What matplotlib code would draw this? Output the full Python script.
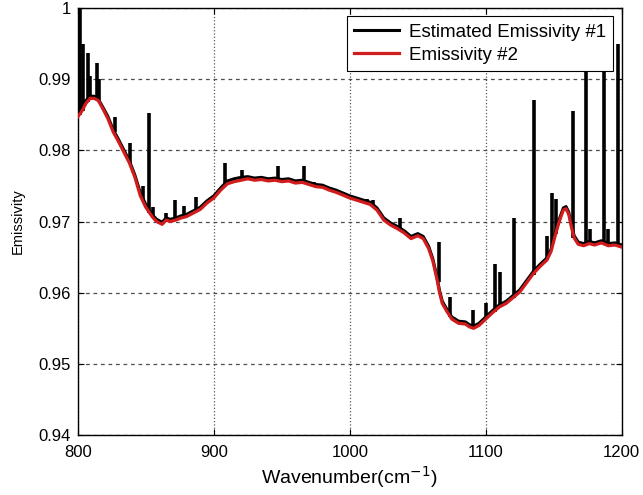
import matplotlib
matplotlib.use("Agg")
import matplotlib.pyplot as plt

plt.rcParams['font.family'] = ['Liberation Sans', 'DejaVu Sans']

# emissivity #2 (smooth red curve)
red_wn = [800, 803, 806, 809, 812, 815, 818, 822, 826, 830, 834, 838, 842, 846, 850,
          855, 858, 862, 865, 868, 872, 876, 880, 885, 890, 895, 900, 905, 910, 915,
          920, 925, 930, 935, 940, 945, 950, 955, 960, 965, 970, 975, 980, 985, 990,
          995, 1000, 1005, 1010, 1015, 1020, 1025, 1030, 1035, 1040, 1045, 1050, 1054,
          1058, 1061, 1064, 1066, 1068, 1071, 1075, 1080, 1085, 1088, 1091, 1095, 1100,
          1105, 1110, 1115, 1120, 1125, 1130, 1135, 1140, 1145, 1148, 1151, 1154, 1157,
          1159, 1161, 1163, 1165, 1168, 1172, 1176, 1180, 1185, 1190, 1195, 1200]
red_em = [0.9847, 0.9855, 0.9866, 0.9873, 0.9873, 0.9870, 0.9860, 0.9845, 0.9826, 0.9812,
          0.9797, 0.9782, 0.9762, 0.9736, 0.9720, 0.9706, 0.9700, 0.9696, 0.9702, 0.9700,
          0.9702, 0.9705, 0.9707, 0.9712, 0.9717, 0.9726, 0.9733, 0.9744, 0.9753, 0.9756,
          0.9758, 0.9760, 0.9758, 0.9759, 0.9757, 0.9758, 0.9756, 0.9757, 0.9754, 0.9755,
          0.9752, 0.9749, 0.9748, 0.9744, 0.9741, 0.9737, 0.9733, 0.9730, 0.9727, 0.9724,
          0.9716, 0.9702, 0.9695, 0.9690, 0.9684, 0.9676, 0.9680, 0.9676, 0.9662, 0.9645,
          0.9620, 0.9600, 0.9585, 0.9575, 0.9563, 0.9557, 0.9556, 0.9552, 0.9550, 0.9554,
          0.9563, 0.9572, 0.9580, 0.9585, 0.9593, 0.9601, 0.9614, 0.9627, 0.9637, 0.9646,
          0.9658, 0.9680, 0.9700, 0.9716, 0.9718, 0.9710, 0.9692, 0.9677, 0.9668, 0.9666,
          0.9669, 0.9667, 0.9670, 0.9666, 0.9667, 0.9664]

# estimated emissivity #1: same baseline, slightly noisier, plus narrow spikes
black_em = [0.9850, 0.9858, 0.9870, 0.9876, 0.9876, 0.9872, 0.9862, 0.9848, 0.9829, 0.9815,
            0.9800, 0.9785, 0.9765, 0.9740, 0.9724, 0.9709, 0.9703, 0.9699, 0.9705, 0.9703,
            0.9705, 0.9708, 0.9710, 0.9715, 0.9720, 0.9729, 0.9736, 0.9747, 0.9757, 0.9760,
            0.9762, 0.9763, 0.9761, 0.9762, 0.9760, 0.9761, 0.9759, 0.9760, 0.9757, 0.9758,
            0.9755, 0.9752, 0.9751, 0.9747, 0.9744, 0.9740, 0.9736, 0.9733, 0.9730, 0.9727,
            0.9719, 0.9705, 0.9698, 0.9693, 0.9687, 0.9679, 0.9683, 0.9679, 0.9665, 0.9648,
            0.9623, 0.9603, 0.9588, 0.9578, 0.9566, 0.9560, 0.9559, 0.9555, 0.9553, 0.9557,
            0.9566, 0.9575, 0.9583, 0.9588, 0.9596, 0.9604, 0.9617, 0.9630, 0.9640, 0.9649,
            0.9661, 0.9683, 0.9703, 0.9719, 0.9721, 0.9713, 0.9695, 0.9680, 0.9671, 0.9669,
            0.9672, 0.9670, 0.9673, 0.9669, 0.9670, 0.9667]
spike_wn = [801.8, 803.7, 807.4, 808.8, 814.0, 815.4, 827.2, 838.2, 847.8, 852.2, 855.0,
            864.7, 871.3, 878.0, 886.8, 908.0, 920.6, 947.0, 966.0, 974.0, 995.0, 1012.5,
            1017.0, 1036.8, 1065.4, 1073.5, 1090.4, 1100.0, 1106.6, 1110.3, 1120.6,
            1135.3, 1145.0, 1149.0, 1151.5, 1164.0, 1173.5, 1176.5, 1186.8, 1190.0, 1197.0]
spike_lo = [0.9850, 0.9855, 0.9868, 0.9870, 0.9872, 0.9870, 0.9826, 0.9782, 0.9730, 0.9712, 0.9706,
            0.9700, 0.9702, 0.9706, 0.9714, 0.9750, 0.9758, 0.9757, 0.9755, 0.9750, 0.9737, 0.9725,
            0.9723, 0.9687, 0.9615, 0.9566, 0.9550, 0.9563, 0.9573, 0.9580, 0.9593,
            0.9625, 0.9646, 0.9665, 0.9682, 0.9677, 0.9667, 0.9668, 0.9669, 0.9666, 0.9667]
spike_hi = [1.0020, 0.9950, 0.9937, 0.9905, 0.9923, 0.9900, 0.9847, 0.9810, 0.9750, 0.9852, 0.9720,
            0.9712, 0.9730, 0.9722, 0.9735, 0.9782, 0.9772, 0.9778, 0.9778, 0.9755, 0.9741, 0.9732,
            0.9730, 0.9705, 0.9671, 0.9594, 0.9576, 0.9585, 0.9640, 0.9629, 0.9705,
            0.9870, 0.9680, 0.9740, 0.9732, 0.9855, 0.9950, 0.9690, 0.9950, 0.9690, 0.9950]

fig = plt.figure(figsize=(6.43, 4.95), dpi=100)
ax = fig.add_axes([0.121, 0.121, 0.846, 0.863])

ax.plot(red_wn, black_em, color='black', lw=2.2, label='Estimated Emissivity #1', zorder=2)
ax.vlines(spike_wn, spike_lo, spike_hi, color='black', lw=2.6, zorder=2)
ax.plot(red_wn, red_em, color='#d01c1c', lw=2.3, label='Emissivity #2', zorder=3)

ax.set_xlim(800, 1200)
ax.set_ylim(0.94, 1.0)
ax.set_xticks([800, 900, 1000, 1100, 1200])
ax.set_yticks([0.94, 0.95, 0.96, 0.97, 0.98, 0.99, 1.0])
ax.set_yticklabels(['0.94', '0.95', '0.96', '0.97', '0.98', '0.99', '1'])

ax.xaxis.grid(True, ls=':', color='0.35', lw=0.9)
ax.yaxis.grid(True, ls=(0, (3, 3)), color='0.3', lw=0.9)
ax.set_axisbelow(True)

ax.tick_params(direction='in', top=True, right=True, length=4, labelsize=12, pad=5)
ax.tick_params(axis='x', pad=7)
for s in ax.spines.values():
    s.set_linewidth(1.0)

ax.set_xlabel('Wavenumber(cm$^{-1}$)', fontsize=14, labelpad=3)
ax.set_ylabel('Emissivity', fontsize=10.5, labelpad=10)

leg = ax.legend(loc='upper right', fontsize=13.5, handlelength=2.4, fancybox=False,
                framealpha=1, edgecolor='black', borderaxespad=0.45,
                handletextpad=0.5, borderpad=0.4, labelspacing=0.3)
leg.get_frame().set_linewidth(0.8)

fig.savefig('out.png', dpi=100)
